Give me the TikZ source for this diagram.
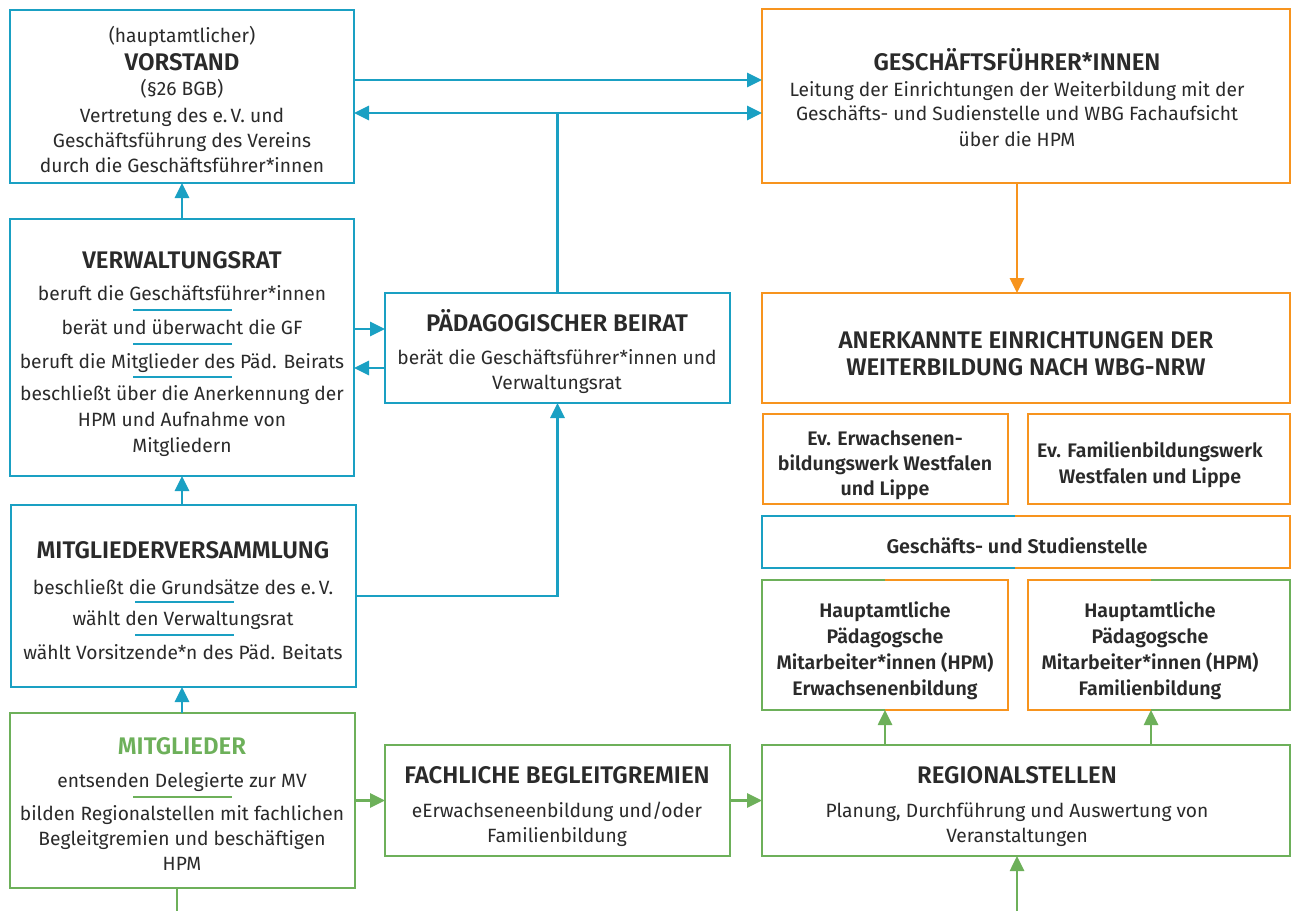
\documentclass[tikz,border=0pt]{standalone}
\usepackage{fontspec}
\IfFontExistsTF{Fira Sans SemiBold}{\setmainfont{Fira Sans}[BoldFont={Fira Sans SemiBold}]}{\setmainfont{Fira Sans}}
\usetikzlibrary{arrows.meta,calc}
\definecolor{cyanc}{HTML}{1AA0C3}
\definecolor{orangec}{HTML}{F7941E}
\definecolor{greenc}{HTML}{6DB05A}
\definecolor{textc}{HTML}{2A2A2A}
\newcommand{\mytxt}[5]{\node[#4] (#1) at (#2,#3) {#5};}
\tikzset{
  box/.style={rectangle, inner sep=0pt, outer sep=0pt, line width=2.7pt},
  bx/.style={box, draw=#1},
  ln/.style={line width=2.7pt},
  arr/.style={line width=2.7pt, -{Triangle[length=15pt,width=14pt]}},
  darr/.style={line width=2.7pt, {Triangle[length=15pt,width=14pt]}-{Triangle[length=15pt,width=14pt]}},
  sep/.style={line width=1.6pt},
  body/.style={anchor=base, text=textc, inner sep=0pt, font=\fontsize{19.2}{25}\selectfont},
  ttl/.style={anchor=base, text=textc, inner sep=0pt, font=\fontsize{24}{28}\selectfont\bfseries},
  bbody/.style={anchor=base, text=textc, inner sep=0pt, font=\fontsize{19.6}{25}\selectfont\bfseries},
  sbody/.style={anchor=base, text=textc, inner sep=0pt, font=\fontsize{19.8}{25}\selectfont\bfseries},
}
\begin{document}
\begin{tikzpicture}[x=1pt,y=-1pt]
\useasboundingbox[fill=white] (0,0) rectangle (1292,911);
% boxes
\node[bx=cyanc, minimum width=344, minimum height=173] (vorstand) at (182,96.5) {};
\node[bx=cyanc, minimum width=344, minimum height=257] (vr) at (182,347.5) {};
\node[bx=cyanc, minimum width=345, minimum height=182] (mv) at (183.5,596) {};
\node[bx=greenc, minimum width=345, minimum height=175] (mitglieder) at (182.5,800.5) {};
\node[bx=cyanc, minimum width=345, minimum height=110] (beirat) at (557.5,348) {};
\node[bx=greenc, minimum width=345, minimum height=111] (fach) at (557.5,800.5) {};
\node[bx=orangec, minimum width=528, minimum height=174] (gf) at (1026,96) {};
\node[bx=orangec, minimum width=528, minimum height=110] (anerk) at (1026,348) {};
\node[bx=orangec, minimum width=245, minimum height=90] (ev1) at (885.5,459) {};
\node[bx=orangec, minimum width=262, minimum height=90] (ev2) at (1159,459) {};
\node[box, minimum width=528, minimum height=52] (gs) at (1026,542) {};
\node[box, minimum width=246, minimum height=130] (hpm1) at (885,645) {};
\node[box, minimum width=262, minimum height=130] (hpm2) at (1159,645) {};
\node[bx=greenc, minimum width=528, minimum height=111] (reg) at (1026,800.5) {};
% two-coloured borders
\draw[ln, cyanc] ($(gs.north west)!0.48!(gs.north east)$) -- (gs.north west) -- (gs.south west) -- ($(gs.south west)!0.48!(gs.south east)$);
\draw[ln, orangec] ($(gs.north west)!0.48!(gs.north east)$) -- (gs.north east) -- (gs.south east) -- ($(gs.south west)!0.48!(gs.south east)$);
\draw[ln, greenc] (hpm1.north) -- (hpm1.north west) -- (hpm1.south west) -- (hpm1.south);
\draw[ln, orangec] (hpm1.north) -- (hpm1.north east) -- (hpm1.south east) -- (hpm1.south);
\draw[ln, orangec] ($(hpm2.north west)!0.47!(hpm2.north east)$) -- (hpm2.north west) -- (hpm2.south west) -- ($(hpm2.south west)!0.47!(hpm2.south east)$);
\draw[ln, greenc] ($(hpm2.north west)!0.47!(hpm2.north east)$) -- (hpm2.north east) -- (hpm2.south east) -- ($(hpm2.south west)!0.47!(hpm2.south east)$);
% helper coordinates
\coordinate (y80) at (0,80);
\coordinate (y113) at (0,113);
\coordinate (yup) at (0,329);
\coordinate (ydn) at (0,368);
\coordinate (xr) at (1017,0);
\coordinate (xh2) at (1151,0);
\coordinate (regin) at (1017,911);
\coordinate (mout) at (177,911);
\coordinate (j) at (beirat.north |- y113);
% connectors
\draw[arr, cyanc] (vr.north) -- (vorstand.south);
\draw[arr, cyanc] (mv.north -| vr.south) -- (vr.south);
\draw[arr, cyanc] (mitglieder.north -| vr.south) -- (mv.south -| vr.south);
\draw[arr, cyanc] (vorstand.east |- y80) -- (gf.west |- y80);
\draw[darr, cyanc] (vorstand.east |- y113) -- (gf.west |- y113);
\draw[ln, cyanc] (beirat.north) -- (j);
\draw[arr, cyanc] (vr.east |- yup) -- (beirat.west |- yup);
\draw[arr, cyanc] (beirat.west |- ydn) -- (vr.east |- ydn);
\draw[arr, cyanc] (mv.east) -| (beirat.south);
\draw[arr, orangec] (gf.south -| xr) -- (anerk.north -| xr);
\draw[arr, greenc] (mitglieder.east |- fach.west) -- (fach.west);
\draw[arr, greenc] (fach.east) -- (reg.west);
\draw[arr, greenc] (reg.north -| hpm1.south) -- (hpm1.south);
\draw[arr, greenc] (reg.north -| xh2) -- (hpm2.south -| xh2);
\draw[arr, greenc] (regin) -- (reg.south -| regin);
\draw[ln, greenc] (mitglieder.south -| mout) -- (mout);
% separators
\draw[sep, cyanc] (133,310) -- (232,310);
\draw[sep, cyanc] (133,344) -- (232,344);
\draw[sep, cyanc] (133,377) -- (232,377);
\draw[sep, cyanc] (135,602) -- (234,602);
\draw[sep, cyanc] (135,635) -- (234,635);
\draw[sep, greenc] (133,797) -- (232,797);
% texts: Vorstand
\mytxt{v1}{182}{42}{body}{(hauptamtlicher)}
\mytxt{v2}{182}{70}{ttl}{VORSTAND}
\mytxt{v3}{182}{95}{body}{(§26 BGB)}
\mytxt{v4}{182}{122}{body}{Vertretung des e.\,V. und}
\mytxt{v5}{182}{147}{body}{Geschäftsführung des Vereins}
\mytxt{v6}{182}{172}{body}{durch die Geschäftsführer*innen}
% Verwaltungsrat
\mytxt{r1}{182}{268}{ttl}{VERWALTUNGSRAT}
\mytxt{r2}{182}{300}{body}{beruft die Geschäftsführer*innen}
\mytxt{r3}{182}{334}{body}{berät und überwacht die GF}
\mytxt{r4}{182}{368}{body}{beruft die Mitglieder des Päd. Beirats}
\mytxt{r5}{182}{400}{body}{beschließt über die Anerkennung der}
\mytxt{r6}{182}{426}{body}{HPM und Aufnahme von}
\mytxt{r7}{182}{452}{body}{Mitgliedern}
% MV
\mytxt{m1}{183}{558}{ttl}{MITGLIEDERVERSAMMLUNG}
\mytxt{m2}{183}{594}{body}{beschließt die Grundsätze des e.\,V.}
\mytxt{m3}{183}{625}{body}{wählt den Verwaltungsrat}
\mytxt{m4}{183}{659}{body}{wählt Vorsitzende*n des Päd. Beitats}
% Mitglieder
\mytxt{g1}{182}{754}{ttl, text=greenc}{MITGLIEDER}
\mytxt{g2}{182}{787}{body}{entsenden Delegierte zur MV}
\mytxt{g3}{182}{820}{body}{bilden Regionalstellen mit fachlichen}
\mytxt{g4}{182}{845}{body}{Begleitgremien und beschäftigen}
\mytxt{g5}{182}{870}{body}{HPM}
% Beirat
\mytxt{b1}{557}{331}{ttl}{PÄDAGOGISCHER BEIRAT}
\mytxt{b2}{557}{364}{body}{berät die Geschäftsführer*innen und}
\mytxt{b3}{557}{389}{body}{Verwaltungsrat}
% Fachliche
\mytxt{f1}{557}{783}{ttl}{FACHLICHE BEGLEITGREMIEN}
\mytxt{f2}{557}{817}{body}{eErwachseneenbildung und/oder}
\mytxt{f3}{557}{842}{body}{Familienbildung}
% GF
\mytxt{h1}{1017}{70}{ttl}{GESCHÄFTSFÜHRER*INNEN}
\mytxt{h2}{1017}{96}{body}{Leitung der Einrichtungen der Weiterbildung mit der}
\mytxt{h3}{1017}{120}{body}{Geschäfts- und Sudienstelle und WBG Fachaufsicht}
\mytxt{h4}{1017}{146}{body}{über die HPM}
% Anerkannte
\mytxt{a1}{1026}{348}{ttl}{ANERKANNTE EINRICHTUNGEN DER}
\mytxt{a2}{1026}{375}{ttl}{WEITERBILDUNG NACH WBG-NRW}
% Ev boxes
\mytxt{e1}{885}{445}{bbody}{Ev. Erwachsenen-}
\mytxt{e2}{885}{470}{bbody}{bildungswerk Westfalen}
\mytxt{e3}{885}{495}{bbody}{und Lippe}
\mytxt{e4}{1150}{457}{bbody}{Ev. Familienbildungswerk}
\mytxt{e5}{1150}{483}{bbody}{Westfalen und Lippe}
% GS
\mytxt{s1}{1017}{553}{sbody}{Geschäfts- und Studienstelle}
% HPM
\mytxt{p1}{885}{617}{bbody}{Hauptamtliche}
\mytxt{p2}{885}{643}{bbody}{Pädagogsche}
\mytxt{p3}{885}{669}{bbody}{Mitarbeiter*innen (HPM)}
\mytxt{p4}{885}{695}{bbody}{Erwachsenenbildung}
\mytxt{q1}{1150}{617}{bbody}{Hauptamtliche}
\mytxt{q2}{1150}{643}{bbody}{Pädagogsche}
\mytxt{q3}{1150}{669}{bbody}{Mitarbeiter*innen (HPM)}
\mytxt{q4}{1150}{695}{bbody}{Familienbildung}
% Regionalstellen
\mytxt{k1}{1017}{783}{ttl}{REGIONALSTELLEN}
\mytxt{k2}{1017}{817}{body}{Planung, Durchführung und Auswertung von}
\mytxt{k3}{1017}{842}{body}{Veranstaltungen}
\end{tikzpicture}
\end{document}
